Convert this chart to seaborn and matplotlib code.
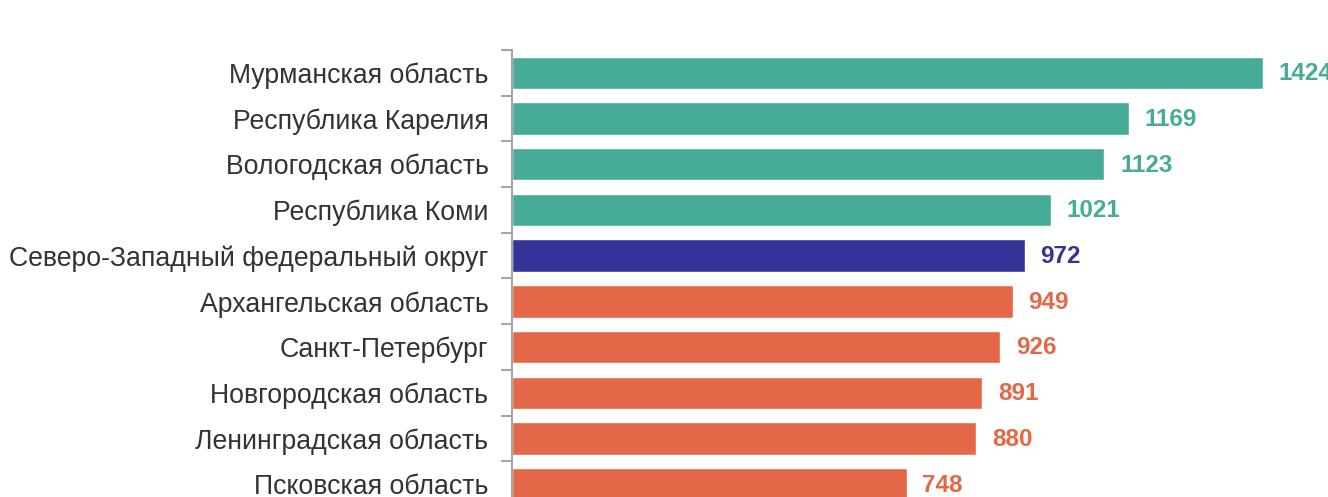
import numpy as np
import pandas as pd
import seaborn as sns
import matplotlib.pyplot as plt

regions = ["Мурманская область", "Республика Карелия", "Вологодская область",
           "Республика Коми", "Северо-Западный федеральный округ",
           "Архангельская область", "Санкт-Петербург", "Новгородская область",
           "Ленинградская область", "Псковская область"]
values = [1424, 1169, 1123, 1021, 972, 949, 926, 891, 880, 748]
groups = ["high", "high", "high", "high", "district",
          "low", "low", "low", "low", "low"]
palette = {"high": "#46AC97", "district": "#343398", "low": "#E46848"}

df = pd.DataFrame({"region": regions, "value": values, "group": groups})

sns.set_style("white")
plt.rcParams["font.family"] = ["Liberation Sans", "DejaVu Sans"]

fig = plt.figure(figsize=(13.28, 4.97), dpi=100)
ax = fig.add_axes([512 / 1328, 1 - 507 / 497, 816 / 1328, 457 / 497])

sns.barplot(data=df, x="value", y="region", hue="group", palette=palette,
            dodge=False, width=0.71, legend=False, ax=ax, saturation=1)

for i, (v, g) in enumerate(zip(values, groups)):
    ax.text(v + 30, i + 0.02, str(v), va="center", ha="left", fontsize=17.5,
            fontweight="bold", color=palette[g], clip_on=False)

ax.set_xlim(0, 1547)
ax.set_ylim(len(regions) - 0.5, -0.5)
ax.set_xlabel("")
ax.set_ylabel("")
ax.set_xticks([])

ax.set_yticks(np.arange(len(regions)) + 0.5 - 1)
ax.set_yticklabels([])
ax.tick_params(axis="y", which="major", length=8, width=1.5, color="#A6A6A6", left=True)
ax.set_yticks(np.arange(len(regions)), minor=True)
ax.set_yticklabels(regions, minor=True)
ax.tick_params(axis="y", which="minor", length=0, pad=17, labelsize=19.2, labelcolor="#333333")

for s in ["top", "right", "bottom"]:
    ax.spines[s].set_visible(False)
ax.spines["left"].set_color("#A6A6A6")
ax.spines["left"].set_linewidth(1.5)

fig.savefig("out.png", dpi=100)
